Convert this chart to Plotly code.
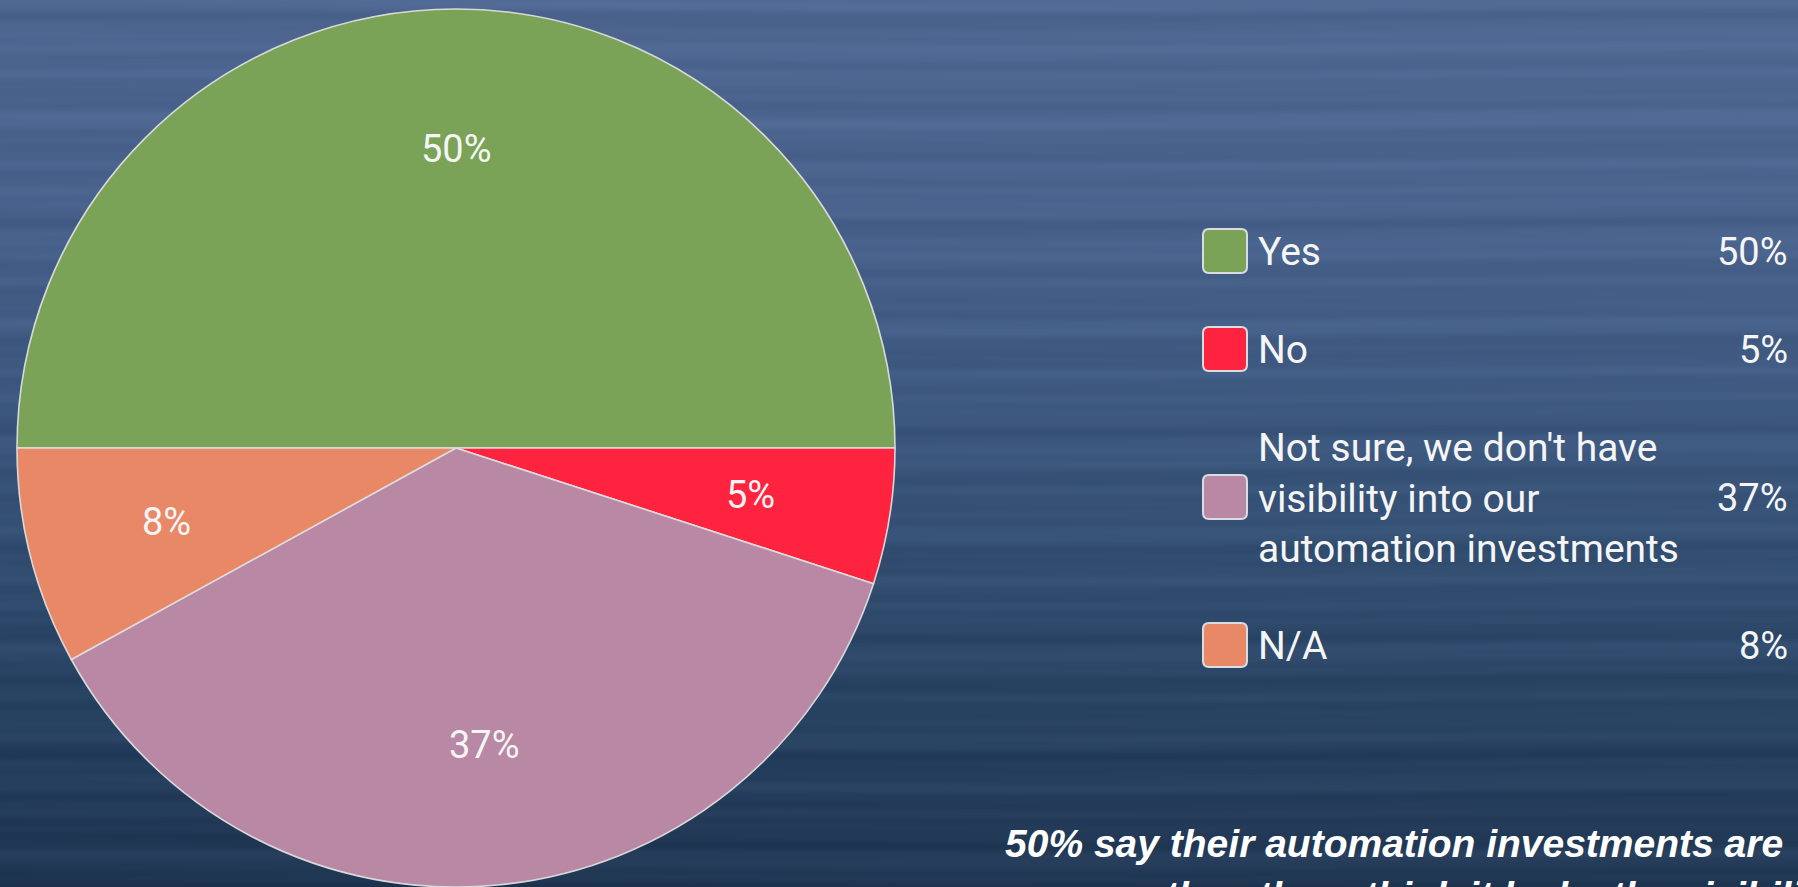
import base64
import math
import zlib
import struct

import numpy as np
import plotly.graph_objects as go

# ---- survey data -------------------------------------------------------
categories = ["Yes", "No",
              "Not sure, we don't have<br>visibility into our<br>automation investments",
              "N/A"]
values = [50, 5, 37, 8]
colors = ["#7AA358", "#FE233E", "#B888A4", "#E88866"]
headline = ["50% say their automation investments are",
            "the others think it lacks the visibility"]

# ---- canvas geometry (pixels) -----------------------------------------
W, H = 1798, 887
PIE_CX, PIE_CY, PIE_R = 456, 448, 439      # centre measured from the top
LABEL_RADIUS = 0.68                        # slice labels sit at 68% of radius
FONT = "Roboto, 'Open Sans', sans-serif"
TEXT = "#F5F5F5"


def px(x):
    return x / W


def py(y):
    return 1 - y / H


# ---- water-like background texture rendered to a PNG -------------------
def make_background(w=600, h=H):
    yy = np.arange(h, dtype=float)[:, None]
    xx = np.arange(w, dtype=float)[None, :] * (W / w)
    stops_y = [0, 200, 400, 550, 700, 887]
    stops = np.array([[78, 104, 146], [73, 99, 141], [62, 89, 128],
                      [51, 79, 114], [41, 67, 99], [33, 56, 84]], float)
    base = np.stack([np.interp(yy[:, 0], stops_y, stops[:, c]) for c in range(3)], -1)
    base = np.repeat(base[:, None, :], w, axis=1)
    ripple = np.zeros((h, w))
    for period, amp, phase, wob, wper in [(23.0, 2.2, 0.3, 2.5, 1400.0),
                                          (41.0, 2.8, 1.7, 4.0, 1900.0),
                                          (67.0, 2.2, 2.9, 6.0, 2500.0),
                                          (13.0, 1.2, 4.1, 1.5, 1100.0)]:
        ripple += amp * np.sin(2 * np.pi * (yy + wob * np.sin(2 * np.pi * xx / wper + phase)) / period + phase)
    # slight left/right shading
    shade = 3.0 * (xx / W - 0.5)
    img = base + ripple[..., None] * np.array([0.8, 0.9, 1.0]) + shade[..., None]
    img = np.clip(img, 0, 255).astype(np.uint8)

    raw = b"".join(b"\x00" + row.tobytes() for row in img)

    def chunk(tag, data):
        return (struct.pack(">I", len(data)) + tag + data +
                struct.pack(">I", zlib.crc32(tag + data) & 0xFFFFFFFF))

    png = (b"\x89PNG\r\n\x1a\n" +
           chunk(b"IHDR", struct.pack(">IIBBBBB", w, h, 8, 2, 0, 0, 0)) +
           chunk(b"IDAT", zlib.compress(raw, 9)) +
           chunk(b"IEND", b""))
    return "data:image/png;base64," + base64.b64encode(png).decode()


# ---- pie ---------------------------------------------------------------
dom_x = [px(PIE_CX - PIE_R), px(PIE_CX + PIE_R)]
dom_y = [(H - PIE_CY - PIE_R) / H, (H - PIE_CY + PIE_R) / H]

fig = go.Figure(go.Pie(
    labels=categories,
    values=values,
    sort=False,
    direction="clockwise",
    rotation=270,
    marker=dict(colors=colors, line=dict(color="rgba(222,222,222,0.95)", width=1.6)),
    textinfo="none",
    hoverinfo="label+percent",
    showlegend=False,
    domain=dict(x=dom_x, y=dom_y),
))

annotations = []

# slice labels placed along each slice bisector
total = float(sum(values))
start = 180.0
for v in values:
    mid = math.radians(start - 180.0 * v / total)
    start -= 360.0 * v / total
    lx = PIE_CX + LABEL_RADIUS * PIE_R * math.cos(mid)
    ly = PIE_CY - LABEL_RADIUS * PIE_R * math.sin(mid)
    annotations.append(dict(
        x=px(lx), y=py(ly), xref="paper", yref="paper",
        text=f"{round(100 * v / total)}%", showarrow=False,
        xanchor="center", yanchor="middle",
        font=dict(family=FONT, size=38, color=TEXT)))

# ---- custom legend with values ------------------------------------------
shapes = []
row_centres = [251, 349, 497, 645]
SW_X0, SW_SIZE, RAD = 1203, 44, 6
for name, v, col, cy in zip(categories, values, colors, row_centres):
    x0, x1 = SW_X0, SW_X0 + SW_SIZE
    y0, y1 = cy - SW_SIZE / 2, cy + SW_SIZE / 2
    X0, X1 = px(x0), px(x1)
    Y0, Y1 = py(y1), py(y0)
    rx, ry = RAD / W, RAD / H
    path = (f"M {X0 + rx},{Y0} L {X1 - rx},{Y0} Q {X1},{Y0} {X1},{Y0 + ry} "
            f"L {X1},{Y1 - ry} Q {X1},{Y1} {X1 - rx},{Y1} "
            f"L {X0 + rx},{Y1} Q {X0},{Y1} {X0},{Y1 - ry} "
            f"L {X0},{Y0 + ry} Q {X0},{Y0} {X0 + rx},{Y0} Z")
    shapes.append(dict(type="path", path=path, xref="paper", yref="paper",
                       fillcolor=col, line=dict(color="#D9DDE2", width=2)))
    annotations.append(dict(
        x=px(1256), y=py(cy + 1), xref="paper", yref="paper", text=name,
        showarrow=False, xanchor="left", yanchor="middle", align="left",
        font=dict(family=FONT, size=39, color=TEXT)))
    annotations.append(dict(
        x=px(1790), y=py(cy + 1), xref="paper", yref="paper", text=f"{v}%",
        showarrow=False, xanchor="right", yanchor="middle", align="right",
        font=dict(family=FONT, size=38, color=TEXT)))

# ---- headline below the legend -----------------------------------------
for i, (line, x0) in enumerate(zip(headline, [1003, 1163])):
    annotations.append(dict(
        x=px(x0), y=py(843 + 52 * i), xref="paper", yref="paper",
        text=f"<b><i>{line}</i></b>", showarrow=False,
        xanchor="left", yanchor="middle",
        font=dict(family="'Liberation Sans', Arial, sans-serif", size=39, color="#FFFFFF")))

fig.update_layout(
    width=W, height=H,
    margin=dict(l=0, r=0, t=0, b=0),
    paper_bgcolor="#3B5680",
    plot_bgcolor="rgba(0,0,0,0)",
    images=[dict(source=make_background(), xref="paper", yref="paper",
                 x=0, y=1, sizex=1, sizey=1, xanchor="left", yanchor="top",
                 sizing="stretch", layer="below")],
    shapes=shapes,
    annotations=annotations,
)

fig.write_html("out.html")
